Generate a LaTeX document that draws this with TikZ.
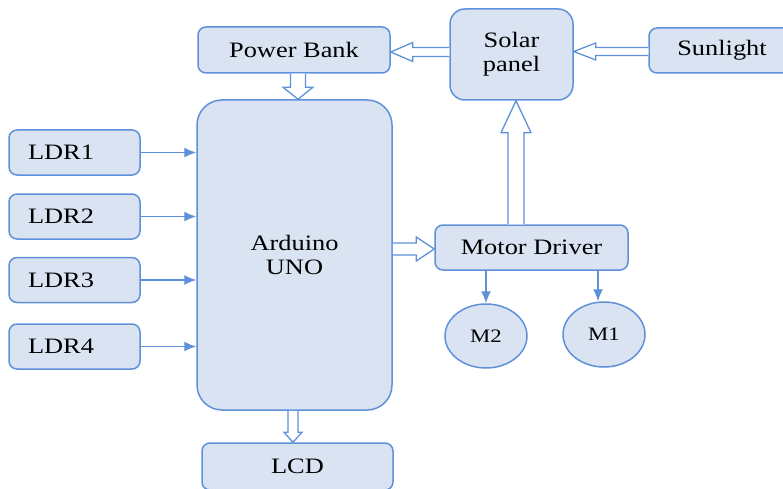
\documentclass[tikz,border=0pt]{standalone}
\usepackage{fontspec}
\setmainfont{Liberation Serif}[FakeStretch=1.2]
\usetikzlibrary{calc,arrows.meta,shapes.geometric}
\definecolor{boxfill}{RGB}{218,227,242}
\definecolor{boxline}{RGB}{95,145,218}
\tikzset{
  blk/.style={draw=boxline, fill=boxfill, line width=1.5pt, rounded corners=8pt,
    font=\fontsize{22}{24}\selectfont, inner sep=0pt, align=center},
  ldrbox/.style={blk, minimum height=45pt, text width=93pt, inner xsep=19pt, align=left},
  motor/.style={draw=boxline, fill=boxfill, line width=1.5pt, ellipse, inner sep=0pt,
    font=\fontsize{19}{22}\selectfont},
  sig/.style={draw=boxline, line width=1.3pt, -{Latex[length=12pt,width=10pt]}},
  hollowarrow/.style={draw=boxline, fill=white, line width=1.3pt, line join=miter}
}
\newcommand\harrow[5]{%
  \coordinate (hA) at #1;
  \coordinate (hB) at #2;
  \coordinate (hC) at ($(hB)!#5!(hA)$);
  \filldraw[hollowarrow] ($(hA)!#3!90:(hB)$) -- ($(hC)!#3!-90:(hA)$) -- ($(hC)!#4!-90:(hA)$)
    -- (hB) -- ($(hC)!#4!90:(hA)$) -- ($(hC)!#3!90:(hA)$) -- ($(hA)!#3!-90:(hB)$);
}
\begin{document}
\begin{tikzpicture}[x=1pt,y=-1pt]
\useasboundingbox (0,0) rectangle (783,489);
% boxes
\node[blk, minimum width=192pt, minimum height=46pt] (pb) at (294,50) {Power Bank};
\node[blk, minimum width=123pt, minimum height=91pt, rounded corners=15pt] (solar) at (511.5,54.5) {Solar\\panel};
\node[blk, minimum width=146pt, minimum height=45pt] (sun) at (722,50.5) {Sunlight};
\node[blk, minimum width=195pt, minimum height=310pt, rounded corners=25pt] (ard) at (294.5,255) {Arduino\\UNO};
\node[blk, minimum width=191pt, minimum height=47pt] (lcd) at (297.5,466.5) {LCD};
\node[ldrbox] (l1) at (74.5,152.5) {LDR1};
\node[ldrbox] (l2) at (74.5,216.5) {LDR2};
\node[ldrbox] (l3) at (74.5,280) {LDR3};
\node[ldrbox] (l4) at (74.5,346.5) {LDR4};
\node[blk, minimum width=193pt, minimum height=45pt] (md) at (531.5,247.5) {Motor Driver};
\node[motor, minimum width=82pt, minimum height=64pt] (m2) at (486,336) {M2};
\node[motor, minimum width=82pt, minimum height=65pt] (m1) at (604,334.5) {M1};
% signal arrows
\foreach \n in {l1,l2,l3,l4}{
  \draw[sig] (\n.east) -- (ard.west |- \n.east);
}
\draw[sig] (md.south -| m2.north) -- (m2.north);
\draw[sig] (md.south -| 598,0) -- (m1.north -| 598,0);
% hollow arrows
\harrow{(solar.west |- 0,52)}{(pb.east |- 0,52)}{4.5pt}{9.5pt}{22pt}
\harrow{(sun.west |- 0,51.5)}{(solar.east |- 0,51.5)}{4pt}{8.5pt}{22pt}
\harrow{(pb.south -| 298,0)}{(ard.north -| 298,0)}{7.5pt}{15pt}{12pt}
\harrow{(ard.south -| 293,0)}{(lcd.north -| 293,0)}{5pt}{9pt}{10pt}
\harrow{(ard.east |- 0,249)}{(md.west |- 0,249)}{6pt}{12pt}{18pt}
\harrow{(md.north -| 516,0)}{(solar.south -| 516,0)}{8pt}{15pt}{32pt}
\end{tikzpicture}
\end{document}
